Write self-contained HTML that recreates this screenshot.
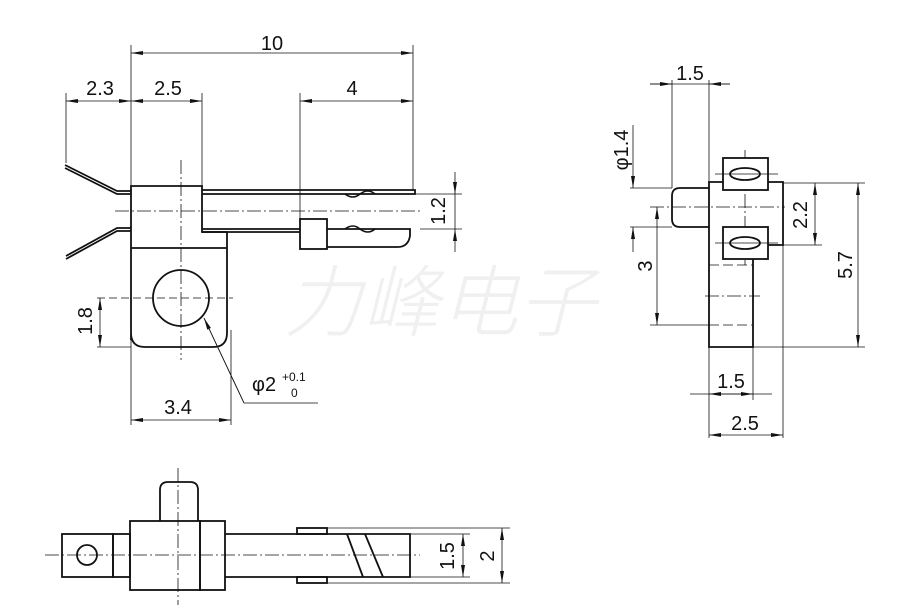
<!DOCTYPE html>
<html><head><meta charset="utf-8"><style>
html,body{margin:0;padding:0;background:#fff;width:901px;height:612px;overflow:hidden}
svg{display:block}
text{font-family:"Liberation Sans",sans-serif;fill:#111}
</style></head><body>
<svg width="901" height="612" viewBox="0 0 901 612" xmlns="http://www.w3.org/2000/svg">
<defs>
<marker id="a" viewBox="0 0 12 4" refX="12" refY="2" markerWidth="12" markerHeight="4" orient="auto-start-reverse" markerUnits="userSpaceOnUse"><path d="M0,0 L12,2 L0,4 z" fill="#111"/></marker>
</defs>
<text x="440" y="330" font-size="78" font-style="italic" style="fill:#f0f0f0;font-family:'Noto Sans CJK SC',sans-serif" text-anchor="middle" font-weight="300">力峰电子</text>

<g stroke="#111" fill="none" stroke-width="0.8">
<line x1="131" y1="45" x2="131" y2="186"/><line x1="413" y1="45" x2="413" y2="191"/>
<line x1="131" y1="53" x2="413" y2="53" marker-start="url(#a)" marker-end="url(#a)"/>
<line x1="66" y1="93" x2="66" y2="163"/><line x1="202" y1="93" x2="202" y2="186"/>
<line x1="300" y1="93" x2="300" y2="221"/>
<line x1="66" y1="101" x2="131" y2="101" marker-start="url(#a)" marker-end="url(#a)"/>
<line x1="131" y1="101" x2="202" y2="101" marker-start="url(#a)" marker-end="url(#a)"/>
<line x1="300" y1="101" x2="413" y2="101" marker-start="url(#a)" marker-end="url(#a)"/>
<line x1="415" y1="194" x2="462" y2="194"/><line x1="420" y1="229" x2="462" y2="229"/>
<line x1="455" y1="172" x2="455" y2="194" marker-end="url(#a)"/>
<line x1="455" y1="252" x2="455" y2="229" marker-end="url(#a)"/>
<line x1="455" y1="194" x2="455" y2="229"/>
<line x1="97" y1="298" x2="233" y2="298" stroke-dasharray="8,4"/>
<line x1="97" y1="347" x2="131" y2="347"/>
<line x1="100" y1="298" x2="100" y2="347" marker-start="url(#a)" marker-end="url(#a)"/>
<line x1="131" y1="340" x2="131" y2="425"/><line x1="231" y1="330" x2="231" y2="425"/>
<line x1="131" y1="420" x2="231" y2="420" marker-start="url(#a)" marker-end="url(#a)"/>
<polyline points="318,403 244,403 204,318"/>
<line x1="244" y1="403" x2="204" y2="318" marker-end="url(#a)"/>
<line x1="115" y1="211" x2="420" y2="211" stroke-dasharray="14,3,2,3"/>
<line x1="181" y1="160" x2="181" y2="360" stroke-dasharray="14,3,2,3"/>
</g>

<g stroke="#111" fill="none" stroke-width="1.8">
<path d="M131,340 V186 H202 V232 H227 V333 Q227,347 213,347 H145 Q131,347 131,333 Z"/>
<line x1="131" y1="248" x2="227" y2="248"/>
<circle cx="181" cy="298" r="28"/>
<path d="M202,190 H415 V194 H202"/>
<path d="M202,229 H300 M202,232 H300"/>
<rect x="300" y="219" width="27" height="30"/>
<path d="M327,229 H410 V236 Q408,247 398,247 H327"/>
<path d="M65,165 L117,191 H131 M65,168 L117,194 H131"/>
<path d="M131,228 H117 L66,256 M131,231 H117 L66,259"/>
<path d="M345,194 q8,6 15,0 q8,-6 15,0" stroke-width="1.5"/>
<path d="M345,229 q8,-6 15,0 q8,6 15,0" stroke-width="1.5"/>
</g>
<text x="272" y="50" font-size="20" text-anchor="middle">10</text>
<text x="100" y="95" font-size="20" text-anchor="middle">2.3</text>
<text x="168" y="95" font-size="20" text-anchor="middle">2.5</text>
<text x="352" y="95" font-size="20" text-anchor="middle">4</text>
<text x="178" y="414" font-size="20" text-anchor="middle">3.4</text>
<text transform="translate(445,211) rotate(-90)" font-size="20" text-anchor="middle">1.2</text>
<text transform="translate(92,321) rotate(-90)" font-size="20" text-anchor="middle">1.8</text>
<text x="252" y="391" font-size="20">φ2</text>
<text x="282" y="381" font-size="12">+0.1</text>
<text x="291" y="397" font-size="12">0</text>

<g stroke="#111" fill="none" stroke-width="0.8">
<line x1="650" y1="84" x2="730" y2="84"/>
<line x1="650" y1="84" x2="672" y2="84" marker-end="url(#a)"/>
<line x1="730" y1="84" x2="709" y2="84" marker-end="url(#a)"/>
<line x1="672" y1="80" x2="672" y2="188"/><line x1="709" y1="80" x2="709" y2="182"/>
<line x1="630" y1="188" x2="672" y2="188"/><line x1="630" y1="227" x2="672" y2="227"/>
<line x1="633" y1="125" x2="633" y2="188" marker-end="url(#a)"/>
<line x1="633" y1="252" x2="633" y2="227" marker-end="url(#a)"/>
<line x1="650" y1="325" x2="709" y2="325"/>
<line x1="657" y1="207" x2="657" y2="325" marker-start="url(#a)" marker-end="url(#a)"/>
<line x1="783" y1="183" x2="865" y2="183"/><line x1="783" y1="245" x2="822" y2="245"/>
<line x1="815" y1="183" x2="815" y2="245" marker-start="url(#a)" marker-end="url(#a)"/>
<line x1="753" y1="347" x2="865" y2="347"/>
<line x1="858" y1="183" x2="858" y2="347" marker-start="url(#a)" marker-end="url(#a)"/>
<line x1="709" y1="347" x2="709" y2="438"/><line x1="753" y1="347" x2="753" y2="400"/>
<line x1="783" y1="245" x2="783" y2="438"/>
<line x1="709" y1="394" x2="753" y2="394" marker-start="url(#a)" marker-end="url(#a)"/>
<line x1="690" y1="394" x2="772" y2="394"/>
<line x1="709" y1="435" x2="783" y2="435" marker-start="url(#a)" marker-end="url(#a)"/>
<line x1="650" y1="207" x2="785" y2="207" stroke-dasharray="14,3,2,3"/>
<line x1="745" y1="150" x2="745" y2="265" stroke-dasharray="14,3,2,3"/>
<line x1="709" y1="265" x2="753" y2="265" stroke-dasharray="10,4"/>
<line x1="705" y1="296" x2="760" y2="296" stroke-dasharray="14,3,2,3"/>
<line x1="709" y1="325" x2="753" y2="325" stroke-dasharray="10,4"/>
</g>
<g stroke="#111" fill="none" stroke-width="1.8">
<path d="M723,182 H709 V347 H753 V259"/>
<path d="M768,182 H783 V245 H768"/>
<rect x="723" y="158" width="45" height="32" fill="#fff"/>
<rect x="723" y="227" width="45" height="32" fill="#fff"/>
<ellipse cx="745" cy="174" rx="15" ry="6"/>
<ellipse cx="745" cy="243" rx="15" ry="6"/>
<path d="M709,188 H680 Q672,188 672,196 V219 Q672,227 680,227 H709"/>
</g>
<g stroke="#111" stroke-width="0.7"><line x1="715" y1="174" x2="778" y2="174"/><line x1="715" y1="243" x2="778" y2="243"/></g>
<text x="690" y="80" font-size="20" text-anchor="middle">1.5</text>
<text transform="translate(628,150) rotate(-90)" font-size="20" text-anchor="middle">φ1.4</text>
<text transform="translate(652,266) rotate(-90)" font-size="20" text-anchor="middle">3</text>
<text transform="translate(807,215) rotate(-90)" font-size="20" text-anchor="middle">2.2</text>
<text transform="translate(852,265) rotate(-90)" font-size="20" text-anchor="middle">5.7</text>
<text x="731" y="388" font-size="20" text-anchor="middle">1.5</text>
<text x="745" y="430" font-size="20" text-anchor="middle">2.5</text>

<g stroke="#111" fill="none" stroke-width="0.8">
<line x1="45" y1="555" x2="420" y2="555" stroke-dasharray="14,3,2,3"/>
<line x1="178" y1="468" x2="178" y2="605" stroke-dasharray="14,3,2,3"/>
<line x1="327" y1="528" x2="510" y2="528"/><line x1="327" y1="583" x2="510" y2="583"/>
<line x1="410" y1="534" x2="470" y2="534"/><line x1="410" y1="577" x2="470" y2="577"/>
<line x1="463" y1="534" x2="463" y2="577" marker-start="url(#a)" marker-end="url(#a)"/>
<line x1="502" y1="528" x2="502" y2="583" marker-start="url(#a)" marker-end="url(#a)"/>
</g>
<g stroke="#111" fill="none" stroke-width="1.8">
<rect x="62" y="534" width="51" height="43"/>
<circle cx="87" cy="555" r="10"/>
<rect x="113" y="534" width="17" height="43"/>
<rect x="130" y="521" width="70" height="69"/>
<rect x="200" y="521" width="25" height="69"/>
<path d="M160,521 V490 Q160,482 168,482 H190 Q198,482 198,490 V521"/>
<path d="M225,534 H410 V577 H225"/>
<rect x="297" y="528" width="30" height="6"/>
<rect x="297" y="577" width="30" height="6"/>
<line x1="347" y1="534" x2="363" y2="577"/>
<line x1="365" y1="534" x2="383" y2="577"/>
</g>
<text transform="translate(454,556) rotate(-90)" font-size="20" text-anchor="middle">1.5</text>
<text transform="translate(494,556) rotate(-90)" font-size="20" text-anchor="middle">2</text>
</svg>
</body></html>
